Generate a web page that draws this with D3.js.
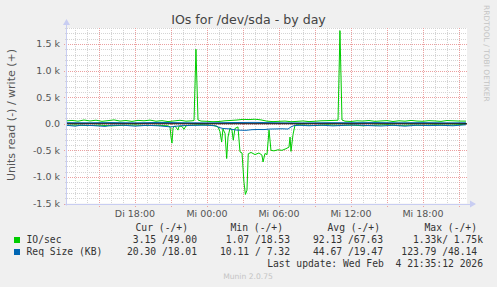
<!DOCTYPE html>
<html>
<head>
<meta charset="utf-8">
<script src="https://cdn.jsdelivr.net/npm/d3@7"></script>
<style>
  body { margin: 0; background: #f0f0f0; }
  svg text { white-space: pre; }
</style>
</head>
<body>
<div id="chart"></div>
<script>
// time is in hours since Di 00:00
// read values are stored positive and drawn below zero (like munin does)
var ioWrite = [[12.33,55],[12.75,62],[13.25,48],[13.75,70],[14.25,52],[14.75,66],[15.25,45],[15.75,58],[16.25,72],[16.75,50],[17.25,60],[17.75,44],[18.25,63],[18.75,55],[19.25,68],[19.75,47],[20.25,58],[20.75,40],[21.25,52],[21.75,65],[22.25,48],[22.75,55],[22.92,60],[23.08,1400],[23.25,70],[23.5,50],[24.0,45],[24.5,38],[25.0,42],[25.5,55],[26.0,62],[26.5,70],[27.0,82],[27.5,78],[28.0,85],[28.5,72],[29.0,48],[29.5,40],[30.0,45],[30.5,50],[31.0,38],[31.5,44],[32.0,52],[32.5,40],[33.0,46],[33.5,55],[34.0,58],[34.5,62],[34.92,66],[35.08,1750],[35.25,70],[35.5,48],[36.0,42],[36.5,55],[37.0,50],[37.5,60],[38.0,45],[38.5,52],[39.0,58],[39.5,42],[40.0,55],[40.5,48],[41.0,62],[41.5,50],[42.0,46],[42.5,58],[43.0,52],[43.5,44],[44.0,60],[44.5,55],[45.0,50],[45.58,49]];

var ioRead = [[12.33,30],[13,25],[14,35],[15,28],[16,40],[17,30],[18,25],[19,35],[20,30],[20.75,40],[20.92,60],[21.0,250],[21.08,365],[21.17,80],[21.33,40],[21.58,120],[21.67,45],[21.92,50],[22.08,105],[22.25,40],[22.5,30],[23.0,25],[23.5,20],[24.0,25],[24.5,30],[24.92,60],[25.08,150],[25.22,345],[25.33,100],[25.5,180],[25.64,655],[25.75,250],[25.92,80],[26.08,120],[26.19,310],[26.33,90],[26.58,60],[26.75,530],[26.92,550],[27.08,1100],[27.2,1330],[27.33,1250],[27.44,565],[27.67,540],[28.0,580],[28.33,550],[28.58,590],[28.67,720],[28.83,560],[29.0,580],[29.17,120],[29.33,500],[29.58,510],[29.92,490],[30.25,500],[30.58,470],[30.83,440],[30.92,250],[31.0,520],[31.17,200],[31.33,30],[31.5,20],[32,25],[33,35],[34,22],[35,30],[36,25],[37,38],[38,28],[39,20],[40,32],[41,25],[42,30],[43,22],[44,28],[45,20],[45.58,3]];

var reqWrite = [[12.33,20],[14,18],[16,22],[18,17],[20,24],[22,19],[24,16],[26,22],[28,25],[30,18],[32,15],[34,20],[36,19],[38,22],[40,18],[42,21],[44,17],[45.58,18]];

var reqRead = [[12.33,30],[13,45],[13.5,28],[14.5,35],[15.5,50],[16,30],[17,28],[18,45],[19,30],[20,40],[21,60],[21.5,45],[22,35],[23,30],[24,28],[24.75,40],[25.0,70],[25.33,90],[25.75,95],[26.5,120],[27.25,124],[27.75,112],[28.25,108],[28.75,110],[29.25,100],[29.75,98],[30.25,95],[30.75,100],[31.0,60],[31.25,35],[31.75,30],[32.5,38],[33.5,28],[34.5,40],[35.5,30],[36.5,25],[37.5,35],[38.5,42],[39.5,30],[40.5,45],[41.5,28],[42.5,35],[43.5,30],[44.5,38],[45.58,20]];

var xTickHours = [18, 24, 30, 36, 42];
var xTickLabels = ["Di 18:00", "Mi 00:00", "Mi 06:00", "Mi 12:00", "Mi 18:00"];
var yTicks = [-1500, -1000, -500, 0, 500, 1000, 1500];
var yTickLabels = ["-1.5 k", "-1.0 k", "-0.5 k", "0.0", "0.5 k", "1.0 k", "1.5 k"];

var legendHead = ["Cur (-/+)", "Min (-/+)", "Avg (-/+)", "Max (-/+)"];
var legendNames = ["IO/sec", "Req Size (KB)"];
var legendColors = ["#00cc00", "#0066b3"];
var legendRows = [
  ["3.15 /49.00", "1.07 /18.53", "92.13 /67.63", "1.33k/ 1.75k"],
  ["20.30 /18.01", "10.11 / 7.32", "44.67 /19.47", "123.79 /48.14 "]
];

var svgWidth = 497, svgHeight = 287;
var plotLeft = 67, plotRight = 467, plotTop = 28, plotBottom = 203.5;

var svg = d3.select("#chart").append("svg")
  .attr("width", svgWidth)
  .attr("height", svgHeight);

svg.append("rect").attr("width", svgWidth).attr("height", svgHeight).attr("fill", "#f0f0f0");

var x = d3.scaleLinear().domain([12.333, 45.667]).range([plotLeft, plotRight]);
var y = d3.scaleLinear().domain([-1500, 1800]).range([plotBottom, plotTop]);

// canvas
svg.append("rect")
  .attr("x", plotLeft).attr("y", plotTop)
  .attr("width", plotRight - plotLeft).attr("height", plotBottom - plotTop)
  .attr("fill", "#ffffff");

// minor grid
var grid = svg.append("g").attr("shape-rendering", "crispEdges");
d3.range(13, 46).filter(h => h % 3 != 0).forEach(function(h) {
  grid.append("line")
    .attr("x1", Math.round(x(h)) + 0.5).attr("x2", Math.round(x(h)) + 0.5)
    .attr("y1", plotTop).attr("y2", plotBottom + 2)
    .attr("stroke", "#d4d4d4").attr("stroke-dasharray", "1,1");
});
d3.range(-1400, 1801, 100).filter(v => v % 500 != 0).forEach(function(v) {
  grid.append("line")
    .attr("x1", plotLeft - 2).attr("x2", plotRight)
    .attr("y1", Math.round(y(v)) + 0.5).attr("y2", Math.round(y(v)) + 0.5)
    .attr("stroke", "#d4d4d4").attr("stroke-dasharray", "1,1");
});
// major grid
d3.range(15, 46, 3).forEach(function(h) {
  grid.append("line")
    .attr("x1", Math.round(x(h)) + 0.5).attr("x2", Math.round(x(h)) + 0.5)
    .attr("y1", plotTop).attr("y2", plotBottom + 3)
    .attr("stroke", "#eba0a0").attr("stroke-dasharray", "1,1");
});
yTicks.forEach(function(v) {
  grid.append("line")
    .attr("x1", plotLeft - 3).attr("x2", plotRight)
    .attr("y1", Math.round(y(v)) + 0.5).attr("y2", Math.round(y(v)) + 0.5)
    .attr("stroke", "#eba0a0").attr("stroke-dasharray", "1,1");
});

// axes with arrows
var axisColor = "#c8cdf2";
svg.append("line").attr("x1", plotLeft - 0.5).attr("x2", plotLeft - 0.5)
  .attr("y1", plotBottom + 2).attr("y2", plotTop - 4)
  .attr("stroke", axisColor);
svg.append("line").attr("x1", plotLeft - 2).attr("x2", plotRight + 4)
  .attr("y1", Math.round(plotBottom) + 0.5).attr("y2", Math.round(plotBottom) + 0.5)
  .attr("stroke", axisColor);
svg.append("path").attr("d", `M${plotLeft - 4},${plotTop - 3} L${plotLeft + 3},${plotTop - 3} L${plotLeft - 0.5},${plotTop - 9} Z`)
  .attr("fill", axisColor);
svg.append("path").attr("d", `M${plotRight + 3},${plotBottom - 3} L${plotRight + 3},${plotBottom + 4} L${plotRight + 9},${plotBottom + 0.5} Z`)
  .attr("fill", axisColor);

// series
var lineGen = d3.line().x(d => x(d[0])).y(d => y(d[1]));
function drawSeries(data, sign, color) {
  svg.append("path")
    .datum(data.map(d => [d[0], sign * d[1]]))
    .attr("d", lineGen)
    .attr("fill", "none")
    .attr("stroke", color)
    .attr("stroke-width", 1);
}
drawSeries(ioRead, -1, legendColors[0]);
drawSeries(ioWrite, 1, legendColors[0]);
drawSeries(reqRead, -1, legendColors[1]);
drawSeries(reqWrite, 1, legendColors[1]);

// zero line
svg.append("line")
  .attr("x1", plotLeft).attr("x2", plotRight)
  .attr("y1", y(0)).attr("y2", y(0))
  .attr("stroke", "#000000").attr("stroke-width", 1);

// labels
var sans = "DejaVu Sans, sans-serif";
var mono = "DejaVu Sans Mono, monospace";

svg.append("text")
  .attr("x", 248.5).attr("y", 24)
  .attr("text-anchor", "middle")
  .attr("font-family", sans).attr("font-size", 12.6)
  .attr("fill", "#444")
  .text("IOs for /dev/sda - by day");

svg.selectAll(".ylab").data(yTicks).enter().append("text")
  .attr("x", 60).attr("y", d => y(d) + 3.5)
  .attr("text-anchor", "end")
  .attr("font-family", sans).attr("font-size", 9.5)
  .attr("fill", "#555")
  .text((d, i) => yTickLabels[i]);

svg.selectAll(".xlab").data(xTickHours).enter().append("text")
  .attr("x", d => x(d)).attr("y", 216.5)
  .attr("text-anchor", "middle")
  .attr("font-family", sans).attr("font-size", 9.5)
  .attr("fill", "#555")
  .text((d, i) => xTickLabels[i]);

svg.append("text")
  .attr("transform", "translate(15, 115) rotate(-90)")
  .attr("text-anchor", "middle")
  .attr("font-family", sans).attr("font-size", 11)
  .attr("fill", "#555")
  .text("Units read (-) / write (+)");

svg.append("text")
  .attr("transform", "translate(484, 5) rotate(90)")
  .attr("font-family", sans).attr("font-size", 7.5)
  .attr("fill", "#c4c4c4")
  .text("RRDTOOL / TOBI OETIKER");

// legend
var headEnds = [188, 283, 380, 477];
var valEnds = [197, 290, 383, 483];
legendHead.forEach(function(t, i) {
  svg.append("text").attr("x", headEnds[i]).attr("y", 231)
    .attr("text-anchor", "end")
    .attr("font-family", mono).attr("font-size", 9.7).attr("fill", "#333")
    .text(t);
});
legendNames.forEach(function(name, r) {
  var ry = 243 + r * 12;
  svg.append("rect").attr("x", 14).attr("y", ry - 6).attr("width", 6).attr("height", 6)
    .attr("fill", legendColors[r]);
  svg.append("text").attr("x", 26.5).attr("y", ry)
    .attr("font-family", mono).attr("font-size", 9.7).attr("fill", "#333")
    .text(name);
  legendRows[r].forEach(function(t, i) {
    svg.append("text").attr("x", valEnds[i]).attr("y", ry)
      .attr("text-anchor", "end")
      .attr("font-family", mono).attr("font-size", 9.7).attr("fill", "#333")
      .text(t);
  });
});

svg.append("text").attr("x", 483).attr("y", 267)
  .attr("text-anchor", "end")
  .attr("font-family", mono).attr("font-size", 9.7).attr("fill", "#333")
  .text("Last update: Wed Feb  4 21:35:12 2026");

svg.append("text").attr("x", 248).attr("y", 279)
  .attr("text-anchor", "middle")
  .attr("font-family", sans).attr("font-size", 7.6).attr("fill", "#c4c4c4")
  .text("Munin 2.0.75");
</script>
</body>
</html>
